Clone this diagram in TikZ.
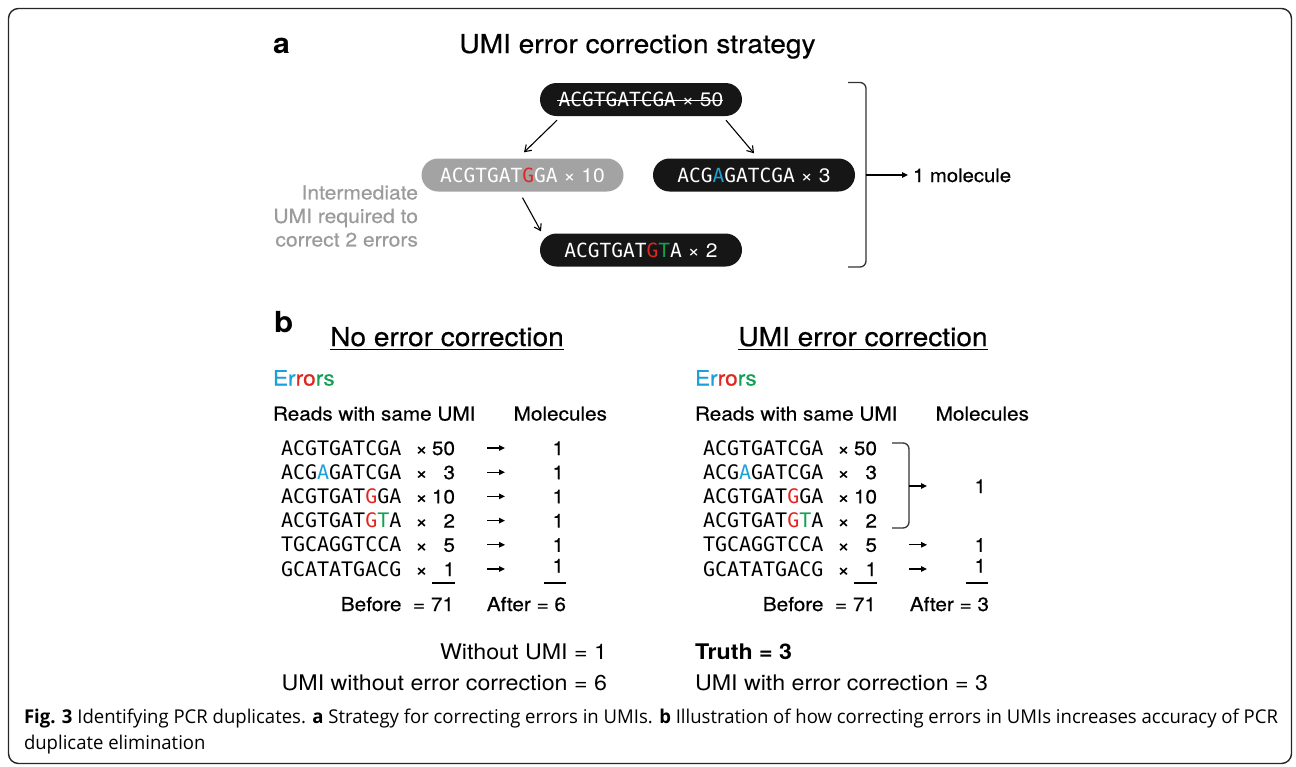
\documentclass[tikz,border=0pt]{standalone}
\usepackage{fontspec}
\usepackage{graphicx}
\setmainfont{TeX Gyre Heros}[FakeStretch=1.08]
\newfontfamily\medf{TeX Gyre Heros}[FakeStretch=1.08, FakeBold=0.5]
\newfontfamily\seqf{DejaVu Sans Mono}
\newfontfamily\capf{Open Sans}
\usetikzlibrary{arrows.meta,calc}
\definecolor{ublue}{HTML}{1BA1DA}
\definecolor{ured}{HTML}{E0261F}
\definecolor{ugreen}{HTML}{12A055}
\definecolor{ugray}{HTML}{A3A3A3}
\definecolor{ugtext}{HTML}{9B9B9B}
\definecolor{ublack}{HTML}{161616}
\newcommand{\myB}[1]{\textcolor{ublue}{#1}}
\newcommand{\myR}[1]{\textcolor{ured}{#1}}
\newcommand{\myG}[1]{\textcolor{ugreen}{#1}}
\newsavebox\capbox
\tikzset{
  txt/.style={inner sep=0pt, outer sep=0pt},
  body/.style={txt, font=\medf\fontsize{19.2}{23}\selectfont},
  seqtxt/.style={txt, font=\seqf\fontsize{20}{24}\selectfont},
  summ/.style={txt, font=\fontsize{21.5}{25}\selectfont},
  pill/.style={fill=ublack, text=white, rounded corners=16.5pt, minimum width=202pt,
    minimum height=33pt, inner sep=0pt, text height=14.6pt, text depth=0pt,
    font=\fontsize{19.5}{24}\selectfont},
  arrA/.style={-{Straight Barb[length=6pt,width=8pt]}, line width=1.1pt},
  arrT/.style={-{Triangle[length=6pt,width=5.5pt]}, line width=1.2pt},
  brk/.style={line width=1.3pt, draw=black!80, rounded corners=6pt},
  uline/.style={line width=1.1pt},
}
\newcommand{\readrow}[4]{%
  \node[seqtxt, anchor=base west] (#1s) at (281,#2) {#3};
  \node[body, anchor=base] (#1x) at (421.5,#2) {×};
  \node[body, anchor=base east] (#1n) at (455,#2) {#4};
}
\newcommand{\rowarrow}[2]{%
  \coordinate (#1a) at (487,#2);
  \coordinate (#1b) at (505,#2);
  \draw[arrT] (#1a) -- (#1b);
}
\newcommand{\panelrows}[1]{%
  \node[txt, anchor=base west, font=\medf\fontsize{21}{25}\selectfont] (#1err) at (273,385.5)
    {\myB{Er}\myR{ro}\myG{rs}};
  \node[body, anchor=base west] (#1reads) at (273,420.5) {Reads with same UMI};
  \node[body, anchor=base east] (#1mol) at (607,420.5) {Molecules};
  \readrow{#11}{455}{ACGTGATCGA}{50}
  \readrow{#12}{479.2}{ACG\myB{A}GATCGA}{3}
  \readrow{#13}{503.4}{ACGTGAT\myR{G}GA}{10}
  \readrow{#14}{527.6}{ACGTGAT\myR{G}\myG{T}A}{2}
  \readrow{#15}{551.8}{TGCAGGTCCA}{5}
  \readrow{#16}{576}{GCATATGACG}{1}
  \draw[uline] (432,583) coordinate (#1u1) -- (455,583) coordinate (#1u2);
  \draw[uline] (544,583) coordinate (#1u3) -- (566,583) coordinate (#1u4);
  \node[body, anchor=base east] (#1before) at (454,611) {Before\ \ = 71};
}
\begin{document}
\sbox\capbox{\capf\fontsize{19}{23}\selectfont\textbf{Fig. 3} Identifying PCR duplicates. \textbf{a} Strategy for correcting errors in UMIs. \textbf{b} Illustration of how correcting errors in UMIs increases accuracy of PCR}
\begin{tikzpicture}[x=1pt,y=-1pt]
\useasboundingbox (0,0) rectangle (1296,766);
\draw[line width=1.4pt, draw=black!85, rounded corners=10pt] (8.5,8.5) rectangle (1291.5,763.5);

% ---------- panel a ----------
\node[txt, anchor=base west, font=\bfseries\fontsize{28}{30}\selectfont] (la) at (273,53) {a};
\node[txt, anchor=base, font=\medf\fontsize{26}{30}\selectfont] (ta) at (637.5,53) {UMI error correction strategy};

\node[pill] (top) at (641,99.5) {{\seqf ACGTGATCGA} × 50};
\draw[white, line width=1.2pt] ([xshift=17pt,yshift=-1pt]top.west) -- ([xshift=-19pt,yshift=-1pt]top.east);
\node[pill, fill=ugray] (gray) at (522.5,175) {{\seqf ACGTGAT\myR{G}GA} × 10};
\node[pill] (right) at (754,175) {{\seqf ACG\myB{A}GATCGA} × 3};
\node[pill] (bot) at (641,250) {{\seqf ACGTGAT\myR{G}\myG{T}A} × 2};

\draw[arrA] ([xshift=-84pt,yshift=-4pt]top.south) -- ([xshift=1.5pt,yshift=6pt]gray.north);
\draw[arrA] ([xshift=85pt,yshift=-4pt]top.south) -- ([xshift=0pt,yshift=5pt]right.north);
\draw[arrA] ([yshift=-6pt]gray.south) -- ([xshift=-100pt,yshift=2pt]bot.north);

\node[txt, anchor=east, align=right, text=ugtext, font=\medf\fontsize{19.5}{23.5}\selectfont] (inter) at (418,216)
  {Intermediate\\UMI required to\\correct 2 errors};

\draw[brk] (848,82.5) -| (866,267) -- (848,267);
\coordinate (brA) at (866,175);
\node[txt, anchor=base west, font=\medf\fontsize{18.8}{22}\selectfont] (mol) at (913,182) {1 molecule};
\draw[arrT, line width=1.1pt] (brA) -- ([xshift=-5pt]mol.west |- brA);

% ---------- panel b ----------
\node[txt, anchor=base west, font=\bfseries\fontsize{29}{30}\selectfont] (lb) at (274,332) {b};
\node[txt, anchor=base, font=\medf\fontsize{26}{30}\selectfont] (tnoe) at (447,346) {No error correction};
\draw[uline] ([yshift=-3.5pt]tnoe.base west) -- ([yshift=-3.5pt]tnoe.base east);
\node[txt, anchor=base, font=\medf\fontsize{26}{30}\selectfont] (tumi) at (863,346) {UMI error correction};
\draw[uline] ([yshift=-3.5pt]tumi.base west) -- ([yshift=-3.5pt]tumi.base east);

% left panel
\panelrows{L}
\rowarrow{L1}{448}
\rowarrow{L2}{472.2}
\rowarrow{L3}{496.4}
\rowarrow{L4}{520.6}
\rowarrow{L5}{544.8}
\rowarrow{L6}{569}
\node[body, anchor=base east] (Lm1) at (564,455) {1};
\node[body, anchor=base east] (Lm2) at (564,479.2) {1};
\node[body, anchor=base east] (Lm3) at (564,503.4) {1};
\node[body, anchor=base east] (Lm4) at (564,527.6) {1};
\node[body, anchor=base east] (Lm5) at (564,551.8) {1};
\node[body, anchor=base east] (Lm6) at (564,572.5) {1};
\node[body, anchor=base east] (Lafter) at (566,611) {After = 6};

% right panel
\begin{scope}[xshift=422pt]
\panelrows{R}
\rowarrow{R5}{544.8}
\rowarrow{R6}{569}
\node[body, anchor=base east] (Rm1) at (564,493) {1};
\node[body, anchor=base east] (Rm5) at (564,551.8) {1};
\node[body, anchor=base east] (Rm6) at (564,572.5) {1};
\node[body, anchor=base east] (Rafter) at (567,611) {After = 3};
\draw[brk] (470,443) coordinate (Rbt) -| (487,528) -- (470,528) coordinate (Rbb);
\coordinate (Rba) at (487,486);
\coordinate (Rbe) at (505,486);
\draw[arrT] (Rba) -- (Rbe);
\end{scope}

% summary
\node[summ, anchor=base east] (s1) at (607,659) {Without UMI = 1};
\node[summ, anchor=base east] (s2) at (607,690) {UMI without error correction = 6};
\node[summ, anchor=base west, font=\bfseries\fontsize{21.5}{25}\selectfont] (s3) at (695,659) {Truth = 3};
\node[summ, anchor=base west] (s4) at (695,690) {UMI with error correction = 3};

% caption
\pgfmathsetmacro{\capsx}{1254/\wd\capbox}
\node[txt, anchor=base west] (cap1) at (24,723) {\scalebox{\capsx}[1]{\usebox\capbox}};
\node[txt, anchor=base west] (cap2) at (24,749) {\scalebox{\capsx}[1]{\capf\fontsize{19}{23}\selectfont duplicate elimination}};
\end{tikzpicture}
\end{document}
